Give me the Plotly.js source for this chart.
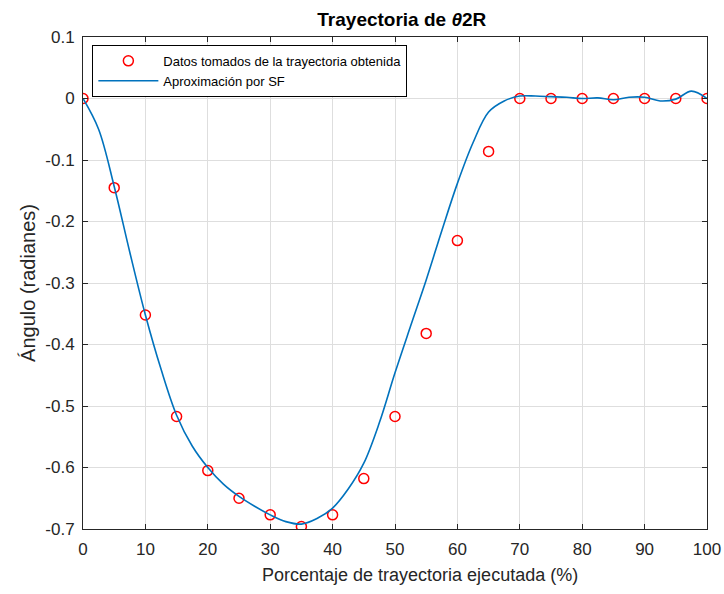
<!DOCTYPE html>
<html>
<head>
<meta charset="utf-8">
<script src="https://cdn.plot.ly/plotly-3.0.1.min.js"></script>
<style>html,body{margin:0;padding:0;background:#fff;}#chart{width:724px;height:594px;}</style>
</head>
<body>
<div id="chart"></div>
<script>
// Sampled data points (red circles)
const dataX = [0, 5, 10, 15, 20, 25, 30, 35, 40, 45, 50, 55, 60, 65, 70, 75, 80, 85, 90, 95, 100];
const dataY = [0, -0.145, -0.352, -0.517, -0.605, -0.650, -0.677, -0.696, -0.677, -0.618, -0.517, -0.382, -0.231, -0.086, 0, 0, 0, 0, 0, 0, 0];

// Fourier-series approximation (blue curve)
const fitX = [0, 2.5, 5, 7.5, 10, 12.5, 15, 17.5, 20, 22.5, 25, 27.5, 30, 32.5, 35, 37.5, 40, 42.5, 45, 47.5, 50, 52.5, 55, 57.5, 60, 62.5, 65, 67.5, 70, 72.5, 75, 77.5, 80, 82.5, 85, 87.5, 90, 92.5, 95, 97.5, 100];
const fitY = [0, -0.050, -0.143, -0.250, -0.352, -0.440, -0.515, -0.565, -0.600, -0.627, -0.647, -0.663, -0.677, -0.688, -0.692, -0.683, -0.666, -0.635, -0.593, -0.527, -0.446, -0.370, -0.295, -0.215, -0.138, -0.072, -0.022, -0.004, 0.004, 0.004, 0.003, 0.002, 0.000, 0.001, -0.002, 0.002, 0.002, -0.004, -0.001, 0.012, 0.000];

const xTicks = [0, 10, 20, 30, 40, 50, 60, 70, 80, 90, 100];
const yTicks = [-0.7, -0.6, -0.5, -0.4, -0.3, -0.2, -0.1, 0, 0.1];
const yTickText = ["-0.7", "-0.6", "-0.5", "-0.4", "-0.3", "-0.2", "-0.1", "0", "0.1"];

const titleText = "<b>Trayectoria de <i>θ</i>2R</b>";
const xTitle = "Porcentaje de trayectoria ejecutada (%)";
const yTitle = "Ángulo (radianes)";
const seriesNames = ["Datos tomados de la trayectoria obtenida", "Aproximación por SF"];

const FONT = "Liberation Sans, Arial, Helvetica, sans-serif";
const AX = "#262626";

const traces = [
  {
    x: dataX, y: dataY, name: seriesNames[0], type: "scatter", mode: "markers",
    marker: {symbol: "circle-open", size: 10, color: "#ff0000", line: {width: 1.5, color: "#ff0000"}}
  },
  {
    x: fitX, y: fitY, name: seriesNames[1], type: "scatter", mode: "lines",
    line: {color: "#0072BD", width: 1.6, shape: "spline", smoothing: 1}
  }
];

const axisCommon = {
  showline: true, linecolor: AX, linewidth: 1, mirror: "ticks",
  ticks: "inside", ticklen: 5, tickcolor: AX, tickwidth: 1,
  showgrid: true, gridcolor: "#dedede", gridwidth: 1,
  zeroline: false,
  tickfont: {family: FONT, size: 17, color: AX}
};

const layout = {
  width: 724, height: 594,
  margin: {l: 83, r: 17, t: 37, b: 65},
  paper_bgcolor: "#ffffff", plot_bgcolor: "#ffffff",
  font: {family: FONT, color: AX},
  title: {text: titleText, font: {family: FONT, size: 19, color: "#000"}, x: 0.555, xanchor: "center", y: 0.968, yanchor: "middle"},
  xaxis: Object.assign({}, axisCommon, {
    range: [0, 100], tickvals: xTicks, ticktext: xTicks.map(String),
    ticklabelstandoff: 5
  }),
  yaxis: Object.assign({}, axisCommon, {
    range: [-0.7, 0.1], tickvals: yTicks, ticktext: yTickText,
    ticklabelstandoff: 4,
    title: {text: yTitle, font: {family: FONT, size: 20, color: AX}, standoff: 4}
  }),
  annotations: [{
    text: xTitle, xref: "paper", yref: "paper", x: 0.54, y: -0.0935,
    xanchor: "center", yanchor: "middle", showarrow: false,
    font: {family: FONT, size: 18, color: AX}
  }],
  showlegend: true,
  legend: {
    x: 0.015, y: 0.984, xanchor: "left", yanchor: "top",
    bgcolor: "#ffffff", bordercolor: "#000000", borderwidth: 1,
    font: {family: FONT, size: 13, color: "#000"},
    itemwidth: 60, tracegroupgap: 0
  }
};

Plotly.newPlot("chart", traces, layout, {displayModeBar: false, staticPlot: true});
</script>
</body>
</html>
